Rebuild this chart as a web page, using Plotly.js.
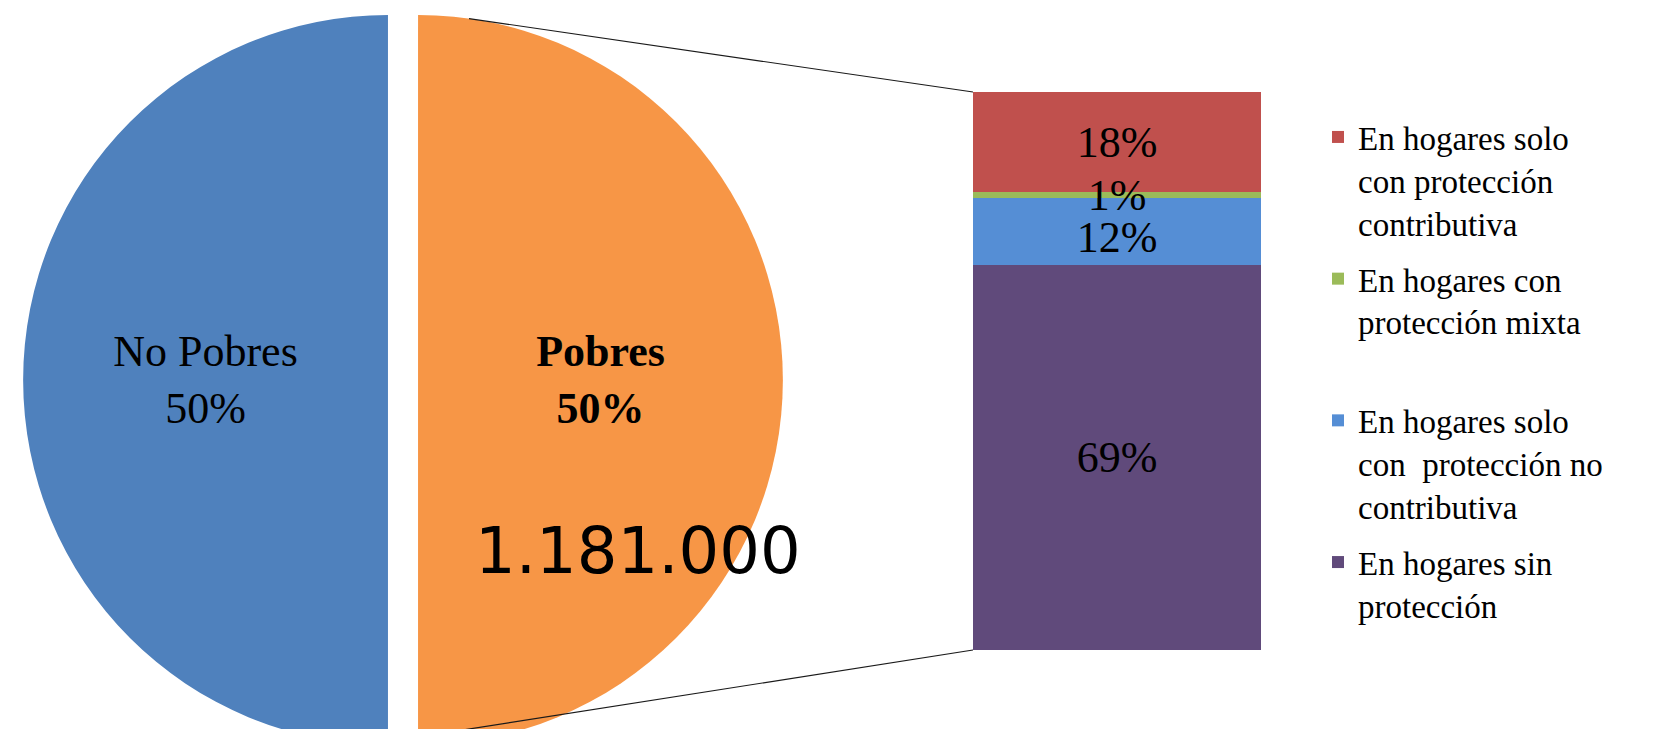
<!DOCTYPE html>
<html>
<head>
<meta charset="utf-8">
<script src="https://cdn.plot.ly/plotly-3.0.1.min.js"></script>
<style>
html, body { margin: 0; padding: 0; overflow: hidden; background: #ffffff; }
#wrap { width: 1661px; height: 729px; overflow: hidden; position: relative; }
#chart { width: 1661px; height: 760px; }
</style>
</head>
<body>
<div id="wrap"><div id="chart"></div></div>
<script>
// ---- data ----
const pieLabels = ['No Pobres', 'Pobres'];
const pieValues = [50, 50];
const pieColors = ['#4F81BD', '#F79646'];
const pieTemplates = ['%{label}<br>%{percent}', '<b>%{label}<br>%{percent}</b>'];
const pobresTotal = '1.181.000';

// breakdown of "Pobres", listed from the bottom of the bar to the top
const barCategory = ['Pobres'];
const barSeries = [
  'En hogares sin<br>protección',
  'En hogares solo<br>con\u00a0 protección no<br>contributiva',
  'En hogares con<br>protección mixta<br>\u00a0',
  'En hogares solo<br>con protección<br>contributiva'
];
const barValues = [69, 12, 1, 18];
const barColors = ['#604A7B', '#558ED5', '#9BBB59', '#C0504D'];
const legendRanks = [4, 3, 2, 1];

// ---- style / layout settings ----
const drawOrder = [0, 1, 3, 2];   // small segment drawn last so its label stays visible
const labelAnchor = ['middle', 'start', 'middle', 'middle'];

const W = 1661, H = 760;
const pieCx = 403, pieHalf = 380;
const pullFrac = 0.0412;
const barLeft = 973, barRight = 1261, barTop = 92, barBottom = 650;
const px = v => v / W;
const py = v => (H - v) / H;

const serif = 'Liberation Serif, Times New Roman, serif';

const traces = [];
traces.push({
  type: 'pie',
  labels: pieLabels,
  values: pieValues,
  sort: false,
  direction: 'clockwise',
  rotation: 180,
  pull: pieValues.map(() => pullFrac),
  marker: { colors: pieColors, line: { width: 0 } },
  texttemplate: pieTemplates,
  textposition: 'inside',
  insidetextorientation: 'horizontal',
  textfont: { family: serif, size: 44, color: '#000000' },
  domain: { x: [px(pieCx - pieHalf), px(pieCx + pieHalf)], y: [0, 1] },
  showlegend: false,
  hoverinfo: 'label+percent'
});

// cumulative bases of the stacked segments
const bases = barValues.map((v, i) => barValues.slice(0, i).reduce((a, b) => a + b, 0));

drawOrder.forEach(i => {
  const v = barValues[i];
  traces.push({
    type: 'bar',
    x: barCategory,
    y: [v],
    base: [bases[i]],
    name: barSeries[i],
    legendgroup: 'g' + i,
    legendrank: legendRanks[i],
    marker: { color: barColors[i], line: { width: 0 } },
    text: [v + '%'],
    textposition: 'inside',
    insidetextanchor: labelAnchor[i],
    textangle: 0,
    constraintext: 'none',
    textfont: { family: serif, size: 44, color: '#000000' },
    xaxis: 'x', yaxis: 'y',
    hoverinfo: 'name+y'
  });
});

// connector lines from the pulled slice to the bar
const oCx = pieCx + 15, oCy = 380, oR = 365;
const topStartX = 469;
const topStartY = oCy - Math.sqrt(oR * oR - (topStartX - oCx) * (topStartX - oCx));

const layout = {
  width: W, height: H,
  margin: { l: 0, r: 0, t: 0, b: 0, pad: 0 },
  paper_bgcolor: '#ffffff',
  plot_bgcolor: 'rgba(0,0,0,0)',
  barmode: 'overlay',
  bargap: 0,
  xaxis: { domain: [px(barLeft), px(barRight)], visible: false, type: 'category', fixedrange: true },
  yaxis: { domain: [py(barBottom), py(barTop)], range: [0, 100], visible: false, fixedrange: true },
  showlegend: true,
  legend: {
    x: px(1318), xanchor: 'left',
    y: py(109), yanchor: 'top',
    font: { family: serif, size: 33, color: '#000000' },
    valign: 'top',
    traceorder: 'grouped',
    tracegroupgap: 10,
    bgcolor: 'rgba(0,0,0,0)'
  },
  shapes: [
    { type: 'line', xref: 'paper', yref: 'paper',
      x0: px(topStartX), y0: py(topStartY), x1: px(barLeft), y1: py(barTop),
      line: { color: '#1a1a1a', width: 1.2 } },
    { type: 'line', xref: 'paper', yref: 'paper',
      x0: px(barLeft), y0: py(barBottom), x1: px(433), y1: py(729 + (469 - 433) * 0.157),
      line: { color: '#1a1a1a', width: 1.2 } }
  ],
  annotations: [
    { text: pobresTotal, xref: 'paper', yref: 'paper',
      x: px(638), y: py(551), xanchor: 'center', yanchor: 'middle',
      showarrow: false,
      font: { family: 'DejaVu Sans, sans-serif', size: 64, color: '#000000' } }
  ]
};

Plotly.newPlot('chart', traces, layout, { displayModeBar: false, staticPlot: true });
</script>
</body>
</html>
